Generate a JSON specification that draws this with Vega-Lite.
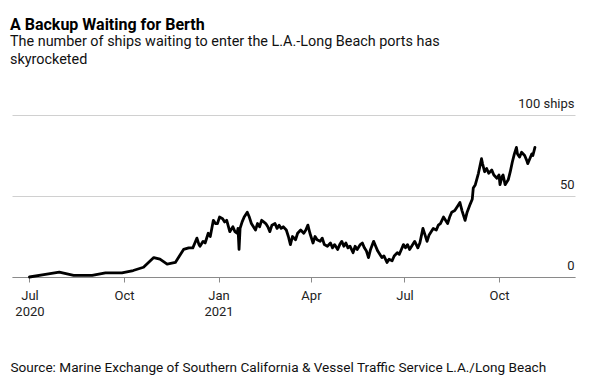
{
  "$schema": "https://vega.github.io/schema/vega-lite/v6.json",
  "autosize": "none",
  "width": 563,
  "height": 162,
  "padding": {"left": 12, "top": 115, "right": 26, "bottom": 101},
  "background": "white",
  "config": {
    "font": "Roboto",
    "view": {"stroke": null}
  },
  "title": {
    "text": "A Backup Waiting for Berth",
    "subtitle": ["The number of ships waiting to enter the L.A.-Long Beach ports has", "skyrocketed"],
    "anchor": "start",
    "frame": "group",
    "dx": -2,
    "offset": 31,
    "fontSize": 16,
    "fontWeight": "bold",
    "color": "#000000",
    "subtitleFontSize": 14.4,
    "subtitleColor": "#111111",
    "subtitleLineHeight": 18,
    "subtitlePadding": 2
  },
  "data": {
    "values": [
      {"date": "2020-07-01", "ships": 0},
      {"date": "2020-07-15", "ships": 1.5},
      {"date": "2020-07-30", "ships": 3},
      {"date": "2020-08-13", "ships": 1},
      {"date": "2020-08-31", "ships": 1},
      {"date": "2020-09-13", "ships": 2.5},
      {"date": "2020-09-29", "ships": 2.5},
      {"date": "2020-10-10", "ships": 4},
      {"date": "2020-10-20", "ships": 6},
      {"date": "2020-10-30", "ships": 12},
      {"date": "2020-11-05", "ships": 11},
      {"date": "2020-11-12", "ships": 8},
      {"date": "2020-11-20", "ships": 9},
      {"date": "2020-11-28", "ships": 17},
      {"date": "2020-12-03", "ships": 18},
      {"date": "2020-12-07", "ships": 18},
      {"date": "2020-12-09", "ships": 21},
      {"date": "2020-12-11", "ships": 24},
      {"date": "2020-12-13", "ships": 20},
      {"date": "2020-12-14", "ships": 19},
      {"date": "2020-12-17", "ships": 22},
      {"date": "2020-12-19", "ships": 21},
      {"date": "2020-12-22", "ships": 27},
      {"date": "2020-12-24", "ships": 25},
      {"date": "2020-12-27", "ships": 35},
      {"date": "2020-12-29", "ships": 33},
      {"date": "2020-12-31", "ships": 33},
      {"date": "2021-01-02", "ships": 37},
      {"date": "2021-01-05", "ships": 36},
      {"date": "2021-01-07", "ships": 34},
      {"date": "2021-01-09", "ships": 35},
      {"date": "2021-01-12", "ships": 28},
      {"date": "2021-01-15", "ships": 31},
      {"date": "2021-01-17", "ships": 28},
      {"date": "2021-01-19", "ships": 27},
      {"date": "2021-01-20", "ships": 30},
      {"date": "2021-01-21", "ships": 17},
      {"date": "2021-01-22", "ships": 30},
      {"date": "2021-01-24", "ships": 34},
      {"date": "2021-01-26", "ships": 37},
      {"date": "2021-01-29", "ships": 40},
      {"date": "2021-01-31", "ships": 37},
      {"date": "2021-02-02", "ships": 33},
      {"date": "2021-02-04", "ships": 31},
      {"date": "2021-02-06", "ships": 29},
      {"date": "2021-02-08", "ships": 33},
      {"date": "2021-02-10", "ships": 31},
      {"date": "2021-02-12", "ships": 35},
      {"date": "2021-02-14", "ships": 34},
      {"date": "2021-02-16", "ships": 33},
      {"date": "2021-02-18", "ships": 31},
      {"date": "2021-02-20", "ships": 28},
      {"date": "2021-02-22", "ships": 32},
      {"date": "2021-02-25", "ships": 33},
      {"date": "2021-02-27", "ships": 30},
      {"date": "2021-03-01", "ships": 32},
      {"date": "2021-03-03", "ships": 30},
      {"date": "2021-03-05", "ships": 31},
      {"date": "2021-03-08", "ships": 29},
      {"date": "2021-03-10", "ships": 25},
      {"date": "2021-03-12", "ships": 20},
      {"date": "2021-03-14", "ships": 25},
      {"date": "2021-03-17", "ships": 23},
      {"date": "2021-03-19", "ships": 27},
      {"date": "2021-03-22", "ships": 29},
      {"date": "2021-03-25", "ships": 27},
      {"date": "2021-03-27", "ships": 29},
      {"date": "2021-03-29", "ships": 32},
      {"date": "2021-03-31", "ships": 27},
      {"date": "2021-04-03", "ships": 21},
      {"date": "2021-04-05", "ships": 25},
      {"date": "2021-04-07", "ships": 23},
      {"date": "2021-04-10", "ships": 22},
      {"date": "2021-04-12", "ships": 24},
      {"date": "2021-04-14", "ships": 20},
      {"date": "2021-04-17", "ships": 19},
      {"date": "2021-04-20", "ships": 21},
      {"date": "2021-04-22", "ships": 18},
      {"date": "2021-04-24", "ships": 20},
      {"date": "2021-04-27", "ships": 17},
      {"date": "2021-04-29", "ships": 20},
      {"date": "2021-05-01", "ships": 22},
      {"date": "2021-05-03", "ships": 19},
      {"date": "2021-05-05", "ships": 21},
      {"date": "2021-05-07", "ships": 18},
      {"date": "2021-05-09", "ships": 19},
      {"date": "2021-05-12", "ships": 15},
      {"date": "2021-05-14", "ships": 19},
      {"date": "2021-05-16", "ships": 17},
      {"date": "2021-05-19", "ships": 20},
      {"date": "2021-05-21", "ships": 21},
      {"date": "2021-05-23", "ships": 18},
      {"date": "2021-05-25", "ships": 16},
      {"date": "2021-05-27", "ships": 12},
      {"date": "2021-05-29", "ships": 17},
      {"date": "2021-06-01", "ships": 22},
      {"date": "2021-06-03", "ships": 19},
      {"date": "2021-06-05", "ships": 16},
      {"date": "2021-06-07", "ships": 14},
      {"date": "2021-06-09", "ships": 12},
      {"date": "2021-06-11", "ships": 13},
      {"date": "2021-06-14", "ships": 9},
      {"date": "2021-06-16", "ships": 11},
      {"date": "2021-06-19", "ships": 10},
      {"date": "2021-06-21", "ships": 13},
      {"date": "2021-06-24", "ships": 15},
      {"date": "2021-06-26", "ships": 14},
      {"date": "2021-06-28", "ships": 17},
      {"date": "2021-06-30", "ships": 20},
      {"date": "2021-07-02", "ships": 18},
      {"date": "2021-07-04", "ships": 20},
      {"date": "2021-07-06", "ships": 17},
      {"date": "2021-07-08", "ships": 19},
      {"date": "2021-07-11", "ships": 22},
      {"date": "2021-07-14", "ships": 18},
      {"date": "2021-07-16", "ships": 21},
      {"date": "2021-07-19", "ships": 30},
      {"date": "2021-07-21", "ships": 26},
      {"date": "2021-07-23", "ships": 22},
      {"date": "2021-07-25", "ships": 26},
      {"date": "2021-07-27", "ships": 28},
      {"date": "2021-07-29", "ships": 30},
      {"date": "2021-08-01", "ships": 29},
      {"date": "2021-08-03", "ships": 32},
      {"date": "2021-08-05", "ships": 33},
      {"date": "2021-08-08", "ships": 37},
      {"date": "2021-08-10", "ships": 35},
      {"date": "2021-08-12", "ships": 33},
      {"date": "2021-08-14", "ships": 37},
      {"date": "2021-08-16", "ships": 40},
      {"date": "2021-08-19", "ships": 41},
      {"date": "2021-08-22", "ships": 44},
      {"date": "2021-08-24", "ships": 46},
      {"date": "2021-08-26", "ships": 41},
      {"date": "2021-08-29", "ships": 35},
      {"date": "2021-08-31", "ships": 40},
      {"date": "2021-09-03", "ships": 45},
      {"date": "2021-09-05", "ships": 48},
      {"date": "2021-09-06", "ships": 55},
      {"date": "2021-09-08", "ships": 57},
      {"date": "2021-09-11", "ships": 64},
      {"date": "2021-09-14", "ships": 73},
      {"date": "2021-09-15", "ships": 70},
      {"date": "2021-09-17", "ships": 65},
      {"date": "2021-09-19", "ships": 67},
      {"date": "2021-09-21", "ships": 64},
      {"date": "2021-09-24", "ships": 66},
      {"date": "2021-09-26", "ships": 63},
      {"date": "2021-09-29", "ships": 61},
      {"date": "2021-10-01", "ships": 63},
      {"date": "2021-10-02", "ships": 57},
      {"date": "2021-10-04", "ships": 62},
      {"date": "2021-10-05", "ships": 63},
      {"date": "2021-10-07", "ships": 57},
      {"date": "2021-10-10", "ships": 60},
      {"date": "2021-10-12", "ships": 65},
      {"date": "2021-10-14", "ships": 71},
      {"date": "2021-10-16", "ships": 76},
      {"date": "2021-10-18", "ships": 80},
      {"date": "2021-10-19", "ships": 76},
      {"date": "2021-10-21", "ships": 74},
      {"date": "2021-10-23", "ships": 77},
      {"date": "2021-10-26", "ships": 75},
      {"date": "2021-10-28", "ships": 72},
      {"date": "2021-10-29", "ships": 70},
      {"date": "2021-10-31", "ships": 73},
      {"date": "2021-11-02", "ships": 76},
      {"date": "2021-11-03", "ships": 75},
      {"date": "2021-11-05", "ships": 80}
    ]
  },
  "mark": {"type": "line", "color": "#000000", "strokeWidth": 2.8, "strokeJoin": "round", "strokeCap": "round"},
  "encoding": {
    "x": {
      "field": "date",
      "type": "temporal",
      "scale": {"type": "utc", "domain": [{"year": 2020, "month": 6, "date": 14, "utc": true}, {"year": 2021, "month": 12, "date": 14, "utc": true}]},
      "axis": {
        "values": [
          {"year": 2020, "month": 7, "date": 1, "utc": true},
          {"year": 2020, "month": 10, "date": 1, "utc": true},
          {"year": 2021, "month": 1, "date": 1, "utc": true},
          {"year": 2021, "month": 4, "date": 1, "utc": true},
          {"year": 2021, "month": 7, "date": 1, "utc": true},
          {"year": 2021, "month": 10, "date": 1, "utc": true}
        ],
        "labelExpr": "(utcmonth(datum.value) == 0 || (utcyear(datum.value) == 2020 && utcmonth(datum.value) == 6)) ? [utcFormat(datum.value, '%b'), utcFormat(datum.value, '%Y')] : utcFormat(datum.value, '%b')",
        "grid": false,
        "domain": true,
        "domainColor": "#8a8a8a",
        "ticks": true,
        "tickColor": "#8a8a8a",
        "tickSize": 5,
        "labelFontSize": 13,
        "labelColor": "#222222",
        "labelPadding": 7,
        "labelLineHeight": 16,
        "labelFlush": false,
        "title": "Source: Marine Exchange of Southern California & Vessel Traffic Service L.A./Long Beach",
        "titleFontSize": 13.6,
        "titleFontWeight": "normal",
        "titleColor": "#111111",
        "titleAnchor": "start",
        "titleAlign": "left",
        "titleBaseline": "alphabetic",
        "titleX": -2,
        "titleY": 94
      }
    },
    "y": {
      "field": "ships",
      "type": "quantitative",
      "scale": {"domain": [0, 100]},
      "axis": {
        "orient": "right",
        "values": [0, 50, 100],
        "labelExpr": "datum.value == 100 ? '100 ships' : datum.label",
        "grid": true,
        "gridColor": "#d0d0d0",
        "domain": false,
        "ticks": false,
        "labelAlign": "right",
        "labelBaseline": "alphabetic",
        "labelOffset": -8,
        "labelPadding": -1,
        "labelFontSize": 13,
        "labelColor": "#222222",
        "title": null
      }
    }
  }
}
